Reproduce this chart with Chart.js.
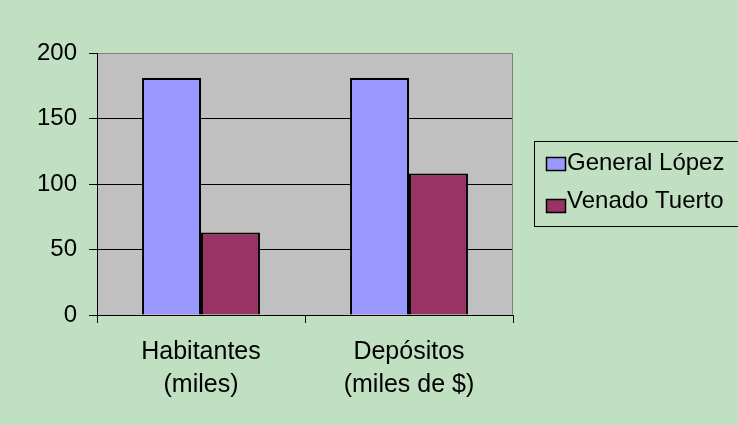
<!DOCTYPE html>
<html>
<head>
<meta charset="utf-8">
<script src="https://cdn.jsdelivr.net/npm/chart.js@4/dist/chart.umd.min.js"></script>
<style>
  html, body { margin: 0; padding: 0; background: #C1E0C1; }
  canvas { display: block; }
</style>
</head>
<body>
<canvas id="c" width="738" height="425"></canvas>
<script>
const categories = [["Habitantes", "(miles)"], ["Depósitos", "(miles de $)"]];
const seriesNames = ["General López", "Venado Tuerto"];
const generalLopez = [181, 181];
const venadoTuerto = [63, 108];
const yMin = 0, yMax = 200, yStep = 50;

const colors = ["#9999FF", "#993366"];
const pageBg = "#C1E0C1";
const plotBg = "#C0C0C0";
const FONT = "'Liberation Sans', Arial, sans-serif";

const bgPlugin = {
  id: 'bg',
  beforeDraw(chart) {
    const ctx = chart.ctx, a = chart.chartArea;
    ctx.save();
    ctx.fillStyle = pageBg;
    ctx.fillRect(0, 0, chart.width, chart.height);
    ctx.fillStyle = plotBg;
    ctx.fillRect(a.left, a.top, a.right - a.left, a.bottom - a.top);
    ctx.restore();
  },
  beforeDatasetsDraw(chart) {
    const ctx = chart.ctx, a = chart.chartArea;
    ctx.save();
    ctx.strokeStyle = "#808080";
    ctx.lineWidth = 1;
    ctx.beginPath();
    ctx.moveTo(Math.round(a.right) - 0.5, a.top);
    ctx.lineTo(Math.round(a.right) - 0.5, a.bottom);
    ctx.stroke();
    ctx.restore();
  },
  afterDraw(chart) {
    const ctx = chart.ctx;
    ctx.save();
    ctx.strokeStyle = "#000";
    ctx.lineWidth = 1;
    ctx.strokeRect(534.5, 141.5, 220, 85);
    ctx.font = "24px " + FONT;
    ctx.textBaseline = "alphabetic";
    ctx.textAlign = "left";
    const rows = [{box: 157, base: 169.5}, {box: 199, base: 208}];
    chart.data.datasets.forEach((ds, i) => {
      const r = rows[i];
      ctx.fillStyle = ds.backgroundColor;
      ctx.fillRect(546, r.box, 19, 13);
      ctx.strokeStyle = "#000";
      ctx.lineWidth = 1.5;
      ctx.strokeRect(546.5, r.box + 0.5, 19, 13);
      ctx.fillStyle = "#000";
      ctx.fillText(ds.label, 567, r.base);
    });
    ctx.restore();
  }
};

new Chart(document.getElementById('c'), {
  type: 'bar',
  data: {
    labels: categories,
    datasets: [
      { label: seriesNames[0], data: generalLopez, backgroundColor: colors[0], borderColor: "#000", borderWidth: 2 },
      { label: seriesNames[1], data: venadoTuerto, backgroundColor: colors[1], borderColor: "#000", borderWidth: 2 }
    ]
  },
  options: {
    responsive: false,
    animation: false,
    devicePixelRatio: 1,
    layout: { padding: { left: 0, right: 225, top: 53, bottom: 0 } },
    plugins: { legend: { display: false }, tooltip: { enabled: false } },
    datasets: { bar: { categoryPercentage: 0.567, barPercentage: 1 } },
    scales: {
      x: {
        afterFit(s) { s.height = 110; },
        grid: { offset: true, drawOnChartArea: false, drawTicks: true, tickLength: 8, color: "#000" },
        border: { color: "#000", width: 1 },
        ticks: { color: "#000", font: { family: FONT, size: 25, lineHeight: 1.32 }, padding: 13, maxRotation: 0 }
      },
      y: {
        min: yMin, max: yMax,
        afterFit(s) { s.width = 97; },
        grid: {
          color: (c) => (c.tick && c.tick.value === yMax) ? "#808080" : "#000",
          tickColor: "#000",
          tickLength: 8,
          drawTicks: true
        },
        border: { color: "#000", width: 1 },
        ticks: { stepSize: yStep, color: "#000", font: { family: FONT, size: 24 }, padding: 12 }
      }
    }
  },
  plugins: [bgPlugin]
});
</script>
</body>
</html>
